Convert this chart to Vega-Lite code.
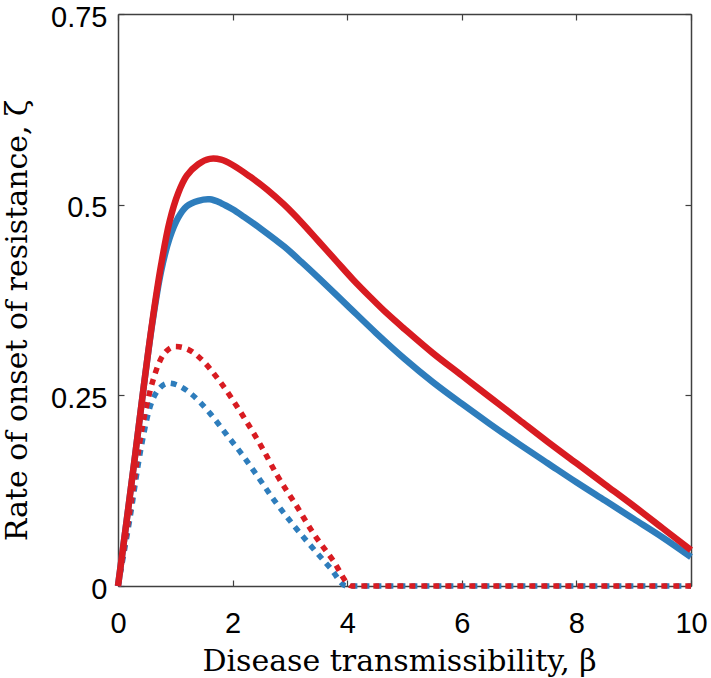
{
  "$schema": "https://vega.github.io/schema/vega-lite/v6.json",
  "autosize": {"type": "none"},
  "padding": {"left": 118, "top": 14, "right": 20, "bottom": 92},
  "width": 573,
  "height": 572,
  "background": "white",
  "view": {"stroke": null},
  "config": {
    "axis": {
      "grid": false,
      "domainColor": "#404040",
      "domainWidth": 1.5,
      "tickColor": "#404040",
      "tickWidth": 1.2,
      "tickSize": -6,
      "labelFont": "Liberation Sans",
      "labelFontSize": 29,
      "labelColor": "black",
      "labelFlush": false,
      "titleFont": "DejaVu Serif",
      "titleFontSize": 30,
      "titleFontWeight": "normal",
      "titleColor": "black"
    }
  },
  "data": {
    "values": [
      {"s": "rs", "x": 0, "y": 0}, {"s": "rs", "x": 0.15, "y": 0.085}, {"s": "rs", "x": 0.3, "y": 0.172}, {"s": "rs", "x": 0.45, "y": 0.262}, {"s": "rs", "x": 0.6, "y": 0.347}, {"s": "rs", "x": 0.75, "y": 0.42}, {"s": "rs", "x": 0.9, "y": 0.478}, {"s": "rs", "x": 1.05, "y": 0.515}, {"s": "rs", "x": 1.2, "y": 0.538}, {"s": "rs", "x": 1.4, "y": 0.553}, {"s": "rs", "x": 1.6, "y": 0.56}, {"s": "rs", "x": 1.8, "y": 0.559}, {"s": "rs", "x": 2.0, "y": 0.552}, {"s": "rs", "x": 2.3, "y": 0.537}, {"s": "rs", "x": 2.6, "y": 0.52}, {"s": "rs", "x": 2.9, "y": 0.5}, {"s": "rs", "x": 3.2, "y": 0.477}, {"s": "rs", "x": 3.5, "y": 0.452}, {"s": "rs", "x": 3.8, "y": 0.427}, {"s": "rs", "x": 4.1, "y": 0.402}, {"s": "rs", "x": 4.4, "y": 0.379}, {"s": "rs", "x": 4.7, "y": 0.357}, {"s": "rs", "x": 5.0, "y": 0.337}, {"s": "rs", "x": 5.5, "y": 0.305}, {"s": "rs", "x": 6.0, "y": 0.276}, {"s": "rs", "x": 6.5, "y": 0.247}, {"s": "rs", "x": 7.0, "y": 0.218}, {"s": "rs", "x": 7.5, "y": 0.189}, {"s": "rs", "x": 8.0, "y": 0.161}, {"s": "rs", "x": 8.5, "y": 0.133}, {"s": "rs", "x": 9.0, "y": 0.105}, {"s": "rs", "x": 9.5, "y": 0.076}, {"s": "rs", "x": 10, "y": 0.047},
      {"s": "bs", "x": 0, "y": 0}, {"s": "bs", "x": 0.15, "y": 0.085}, {"s": "bs", "x": 0.3, "y": 0.172}, {"s": "bs", "x": 0.45, "y": 0.262}, {"s": "bs", "x": 0.6, "y": 0.345}, {"s": "bs", "x": 0.75, "y": 0.412}, {"s": "bs", "x": 0.9, "y": 0.456}, {"s": "bs", "x": 1.05, "y": 0.483}, {"s": "bs", "x": 1.2, "y": 0.498}, {"s": "bs", "x": 1.4, "y": 0.505}, {"s": "bs", "x": 1.6, "y": 0.507}, {"s": "bs", "x": 1.8, "y": 0.502}, {"s": "bs", "x": 2.0, "y": 0.494}, {"s": "bs", "x": 2.2, "y": 0.484}, {"s": "bs", "x": 2.5, "y": 0.468}, {"s": "bs", "x": 2.9, "y": 0.445}, {"s": "bs", "x": 3.2, "y": 0.425}, {"s": "bs", "x": 3.5, "y": 0.404}, {"s": "bs", "x": 4.0, "y": 0.368}, {"s": "bs", "x": 4.5, "y": 0.332}, {"s": "bs", "x": 5.0, "y": 0.298}, {"s": "bs", "x": 5.5, "y": 0.267}, {"s": "bs", "x": 6.0, "y": 0.239}, {"s": "bs", "x": 6.5, "y": 0.212}, {"s": "bs", "x": 7.0, "y": 0.186}, {"s": "bs", "x": 7.5, "y": 0.161}, {"s": "bs", "x": 8.0, "y": 0.136}, {"s": "bs", "x": 8.5, "y": 0.112}, {"s": "bs", "x": 9.0, "y": 0.088}, {"s": "bs", "x": 9.5, "y": 0.064}, {"s": "bs", "x": 10, "y": 0.038},
      {"s": "rd", "x": 0, "y": 0}, {"s": "rd", "x": 0.2, "y": 0.095}, {"s": "rd", "x": 0.44, "y": 0.215}, {"s": "rd", "x": 0.62, "y": 0.272}, {"s": "rd", "x": 0.79, "y": 0.303}, {"s": "rd", "x": 1.0, "y": 0.314}, {"s": "rd", "x": 1.2, "y": 0.311}, {"s": "rd", "x": 1.43, "y": 0.299}, {"s": "rd", "x": 1.78, "y": 0.268}, {"s": "rd", "x": 2.19, "y": 0.222}, {"s": "rd", "x": 2.54, "y": 0.178}, {"s": "rd", "x": 2.77, "y": 0.146}, {"s": "rd", "x": 3.1, "y": 0.107}, {"s": "rd", "x": 3.41, "y": 0.069}, {"s": "rd", "x": 3.75, "y": 0.034}, {"s": "rd", "x": 4.08, "y": 0}, {"s": "rd", "x": 5, "y": 0}, {"s": "rd", "x": 6, "y": 0}, {"s": "rd", "x": 7, "y": 0}, {"s": "rd", "x": 8, "y": 0}, {"s": "rd", "x": 9, "y": 0}, {"s": "rd", "x": 10, "y": 0},
      {"s": "bd", "x": 0, "y": 0}, {"s": "bd", "x": 0.2, "y": 0.085}, {"s": "bd", "x": 0.4, "y": 0.18}, {"s": "bd", "x": 0.56, "y": 0.235}, {"s": "bd", "x": 0.7, "y": 0.257}, {"s": "bd", "x": 0.88, "y": 0.266}, {"s": "bd", "x": 1.05, "y": 0.263}, {"s": "bd", "x": 1.26, "y": 0.253}, {"s": "bd", "x": 1.61, "y": 0.226}, {"s": "bd", "x": 1.9, "y": 0.198}, {"s": "bd", "x": 2.19, "y": 0.17}, {"s": "bd", "x": 2.48, "y": 0.139}, {"s": "bd", "x": 2.74, "y": 0.111}, {"s": "bd", "x": 3.06, "y": 0.08}, {"s": "bd", "x": 3.35, "y": 0.054}, {"s": "bd", "x": 3.7, "y": 0.024}, {"s": "bd", "x": 3.99, "y": 0}, {"s": "bd", "x": 5, "y": 0}, {"s": "bd", "x": 6, "y": 0}, {"s": "bd", "x": 7, "y": 0}, {"s": "bd", "x": 8, "y": 0}, {"s": "bd", "x": 9, "y": 0}, {"s": "bd", "x": 10, "y": 0}
    ]
  },
  "resolve": {"axis": {"x": "independent", "y": "independent"}},
  "layer": [
    {
      "transform": [{"filter": "datum.s === 'bd'"}],
      "mark": {"type": "line", "color": "#2e7dbc", "strokeWidth": 5.5, "strokeDash": [6, 6], "interpolate": "monotone", "clip": false},
      "encoding": {
        "x": {"field": "x", "type": "quantitative", "scale": {"domain": [0, 10], "nice": false},
          "axis": {"orient": "bottom", "values": [0, 2, 4, 6, 8, 10], "format": "d", "labelPadding": 29, "title": "Disease transmissibility, β", "titleBaseline": "alphabetic", "titleY": 84, "titleX": 281}},
        "y": {"field": "y", "type": "quantitative", "scale": {"domain": [0, 0.75], "nice": false},
          "axis": {"orient": "left", "values": [0, 0.25, 0.5, 0.75], "format": ".2~f", "labelPadding": 17, "labelOffset": 3, "title": "Rate of onset of resistance, ζ", "titleBaseline": "alphabetic", "titleX": -92, "titleY": 306}}
      }
    },
    {
      "transform": [{"filter": "datum.s === 'rd'"}],
      "mark": {"type": "line", "color": "#d81b21", "strokeWidth": 5.5, "strokeDash": [6, 6], "interpolate": "monotone", "clip": false},
      "encoding": {
        "x": {"field": "x", "type": "quantitative", "scale": {"domain": [0, 10], "nice": false}, "axis": {"orient": "top", "values": [0, 2, 4, 6, 8, 10], "labels": false, "title": null}},
        "y": {"field": "y", "type": "quantitative", "scale": {"domain": [0, 0.75], "nice": false}, "axis": {"orient": "right", "values": [0, 0.25, 0.5, 0.75], "labels": false, "title": null}}
      }
    },
    {
      "transform": [{"filter": "datum.s === 'bs'"}],
      "mark": {"type": "line", "color": "#2e7dbc", "strokeWidth": 6.5, "interpolate": "catmull-rom", "clip": false},
      "encoding": {
        "x": {"field": "x", "type": "quantitative", "scale": {"domain": [0, 10], "nice": false}, "axis": null},
        "y": {"field": "y", "type": "quantitative", "scale": {"domain": [0, 0.75], "nice": false}, "axis": null}
      }
    },
    {
      "transform": [{"filter": "datum.s === 'rs'"}],
      "mark": {"type": "line", "color": "#d81b21", "strokeWidth": 6.5, "interpolate": "catmull-rom", "clip": false},
      "encoding": {
        "x": {"field": "x", "type": "quantitative", "scale": {"domain": [0, 10], "nice": false}, "axis": null},
        "y": {"field": "y", "type": "quantitative", "scale": {"domain": [0, 0.75], "nice": false}, "axis": null}
      }
    }
  ]
}
